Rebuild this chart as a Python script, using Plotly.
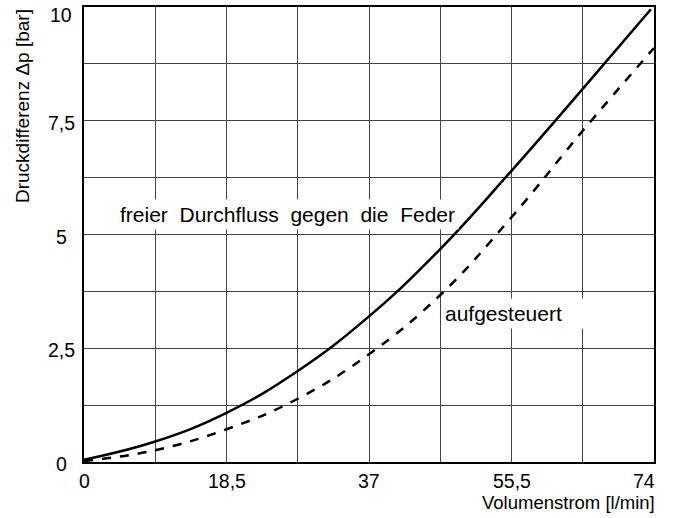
import plotly.graph_objects as go

# Data
flow = [0, 9.25, 18.5, 27.75, 37, 46.25, 55.5, 64.75, 73.6]
dp_free = [0.05, 0.45, 1.08, 2.00, 3.20, 4.68, 6.40, 8.20, 9.95]
flow_open = [0, 9.25, 18.5, 27.75, 37, 46.25, 55.5, 64.75, 74]
dp_open = [0.02, 0.26, 0.72, 1.39, 2.37, 3.67, 5.38, 7.28, 9.10]

x_grid = [0, 9.25, 18.5, 27.75, 37, 46.25, 55.5, 64.75, 74]
y_grid = [0, 1.25, 2.5, 3.75, 5, 6.25, 7.5, 8.75, 10]
x_tick_vals = [0, 18.5, 37, 55.5, 74]
x_tick_text = ["0", "18,5", "37", "55,5", "74"]
y_tick_vals = [0, 2.5, 5, 7.5, 10]
y_tick_text = ["0", "2,5", "5", "7,5", "10"]

label_free = "freier\u00a0\u00a0Durchfluss\u00a0\u00a0gegen\u00a0\u00a0die\u00a0\u00a0Feder"
label_open = "aufgesteuert"
x_title = "Volumenstrom [l/min]"
y_title = "Druckdifferenz \u0394p [bar]"

FONT = "Liberation Sans, Arial, sans-serif"

fig = go.Figure()
fig.add_trace(go.Scatter(x=flow, y=dp_free, mode="lines",
                         line=dict(color="black", width=2.5, shape="spline", smoothing=1.2),
                         showlegend=False, hoverinfo="skip"))
fig.add_trace(go.Scatter(x=flow_open, y=dp_open, mode="lines",
                         line=dict(color="black", width=2.5, shape="spline", smoothing=1.2,
                                   dash="9px,9px"),
                         showlegend=False, hoverinfo="skip"))

annotations = []
for v, t in zip(x_tick_vals, x_tick_text):
    annotations.append(dict(x=v, y=0, xref="x", yref="paper", text=t, showarrow=False,
                            xanchor="right" if v == x_tick_vals[-1] else "center",
                            xshift=3 if v == x_tick_vals[-1] else 0,
                            yanchor="top", yshift=-6,
                            font=dict(family=FONT, size=19.5, color="black")))
for v, t in zip(y_tick_vals, y_tick_text):
    annotations.append(dict(x=0, y=v, xref="paper", yref="y", text=t, showarrow=False,
                            xanchor="center", xshift=-23, yanchor="middle",
                            yshift=-8 if v == y_tick_vals[-1] else -2,
                            font=dict(family=FONT, size=19.5, color="black")))
annotations.append(dict(x=1, y=0, xref="paper", yref="paper", text=x_title, showarrow=False,
                        xanchor="right", xshift=3, yanchor="middle", yshift=-40,
                        font=dict(family=FONT, size=18.5, color="black")))
annotations.append(dict(x=0, y=1, xref="paper", yref="paper", text=y_title, showarrow=False,
                        textangle=-90, xanchor="center", xshift=-62, yanchor="top", yshift=0,
                        font=dict(family=FONT, size=19, color="black")))
annotations.append(dict(x=26.4, y=5.45, xref="x", yref="y", text=label_free, showarrow=False,
                        xanchor="center", yanchor="middle", bgcolor="white", borderpad=3,
                        font=dict(family=FONT, size=21, color="black")))
annotations.append(dict(x=46.3, y=3.26, xref="x", yref="y",
                        text=label_open + "\u00a0\u00a0\u00a0\u00a0", showarrow=False,
                        xanchor="left", yanchor="middle", bgcolor="white", borderpad=3,
                        font=dict(family=FONT, size=21, color="black")))

fig.update_layout(
    width=673, height=518,
    margin=dict(l=84, r=19, t=5, b=56),
    paper_bgcolor="white", plot_bgcolor="white",
    annotations=annotations,
    xaxis=dict(range=[0, 74], tickvals=x_grid, showticklabels=False, ticks="",
               showgrid=True, gridcolor="#444", gridwidth=1, zeroline=False,
               showline=True, linecolor="black", linewidth=2, mirror=True, fixedrange=True),
    yaxis=dict(range=[0, 10], tickvals=y_grid, showticklabels=False, ticks="",
               showgrid=True, gridcolor="#444", gridwidth=1, zeroline=False,
               showline=True, linecolor="black", linewidth=2, mirror=True, fixedrange=True),
)

fig.write_html("out.html", config={"displayModeBar": False},
               post_script="document.body.style.margin='0';document.body.style.overflow='hidden';")
